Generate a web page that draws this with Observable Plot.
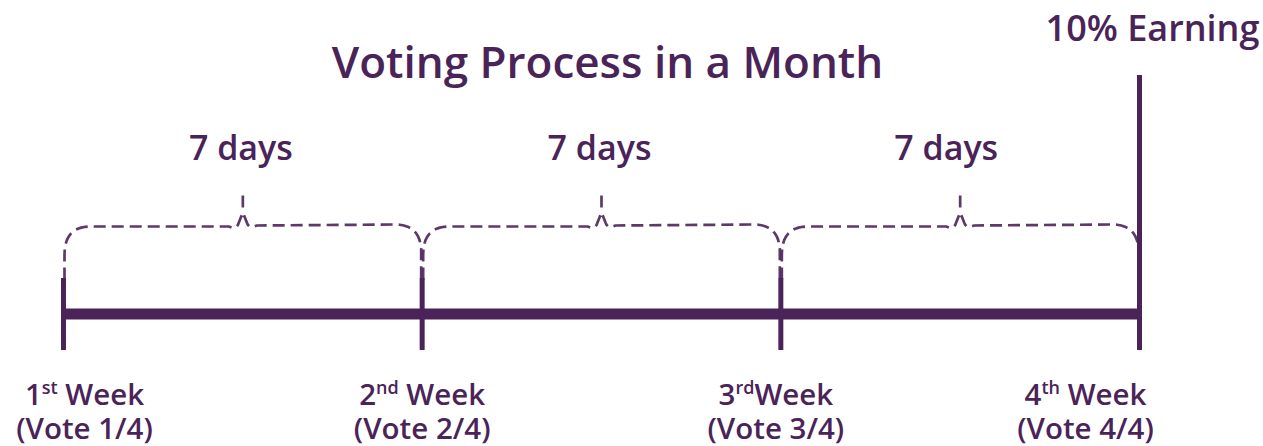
<!DOCTYPE html>
<html>
<head>
<meta charset="utf-8">
<script src="https://cdn.jsdelivr.net/npm/d3@7"></script>
<script src="https://cdn.jsdelivr.net/npm/@observablehq/plot@0.6"></script>
<style>
  html, body { margin: 0; padding: 0; background: #ffffff; }
  #chart { width: 1263px; height: 446px; overflow: hidden; }
</style>
</head>
<body>
<div id="chart"></div>
<script>
// ---- data ----
const title = "Voting Process in a Month";
const goalLabel = "10% Earning";
const weekDays = [0, 7, 14, 21];
const weekLabels = ["1st Week", "2nd Week", "3rdWeek", "4th Week"];
const voteLabels = ["(Vote 1/4)", "(Vote 2/4)", "(Vote 3/4)", "(Vote 4/4)"];
const intervalStart = [0, 7, 14];
const intervalEnd = [7, 14, 21];
const intervalLabels = ["7 days", "7 days", "7 days"];

// ---- layout ----
const W = 1263, H = 446;
const X0 = 63, X1 = 1139;
const DMAX = 21;
const purple = "#4a2359";
const toPx = d => X0 + d * (X1 - X0) / DMAX;
const toDay = p => (p - X0) * DMAX / (X1 - X0);
const labelShift = [21, 0, -5, -54];
const intervalShift = [-2, -2, -14];

function quad(p0, c, p1, n = 10) {
  const out = [];
  for (let k = 1; k <= n; k++) {
    const t = k / n, u = 1 - t;
    out.push([u*u*p0[0] + 2*u*t*c[0] + t*t*p1[0], u*u*p0[1] + 2*u*t*c[1] + t*t*p1[1]]);
  }
  return out;
}
function bracePts(s, e) {
  const a = toPx(s) + 1, b = toPx(e) - 1, m = (a + b) / 2;
  let pts = [[a, 279], [a, 254]];
  pts = pts.concat(quad([a, 254], [a, 226], [a + 26, 226]));
  pts.push([m - 14, 226]);
  pts = pts.concat(quad([m - 14, 226], [m - 6, 230], [m - 4, 222], 5));
  pts.push([m, 212]);
  pts.push([m + 4, 222]);
  pts = pts.concat(quad([m + 4, 222], [m + 6, 229], [m + 14, 225], 5));
  pts.push([b - 26, 224]);
  pts = pts.concat(quad([b - 26, 224], [b - 2, 224], [b, 248]));
  pts.push([b, 280]);
  return pts;
}
const braceData = [];
intervalStart.forEach((s, i) => {
  bracePts(s, intervalEnd[i]).forEach(([px, py]) => braceData.push({x: toDay(px), y: py, id: "b" + i}));
  const mid = (s + intervalEnd[i]) / 2;
  braceData.push({x: mid, y: 195, id: "s" + i});
  braceData.push({x: mid, y: 207, id: "s" + i});
});

const font = "'Open Sans', 'Noto Sans', sans-serif";

const weekMarks = weekDays.map((d, i) =>
  Plot.text([weekLabels[i] + "\n" + voteLabels[i]], {x: () => d, y: () => 438, text: t => t, dx: labelShift[i],
    fontSize: 29.5, lineHeight: 1.12, fontWeight: 600, fill: purple, textAnchor: "middle", lineAnchor: "bottom",
    ariaDescription: "week-label"})
);

const chart = Plot.plot({
  width: W, height: H, margin: 0,
  x: {domain: [0, DMAX], range: [X0, X1], axis: null},
  y: {domain: [0, H], range: [0, H], axis: null},
  style: {fontFamily: font, background: "#ffffff", color: purple, overflow: "visible"},
  marks: [
    Plot.line(braceData, {x: "x", y: "y", z: "id", stroke: purple, strokeOpacity: 0.9, strokeWidth: 2.7,
      strokeDasharray: "12,6", curve: "linear", strokeLinecap: "butt"}),
    Plot.ruleY([{y: 313.5, a: weekDays[0], b: weekDays[weekDays.length - 1]}], {y: "y", x1: "a", x2: "b", stroke: purple, strokeWidth: 11}),
    Plot.ruleX(weekDays.slice(0, -1), {x: d => d, y1: () => 278, y2: () => 350, stroke: purple, strokeWidth: 5}),
    Plot.ruleX(weekDays.slice(-1), {x: d => d, y1: () => 75, y2: () => 350, stroke: purple, strokeWidth: 5}),
    Plot.text([title], {x: () => toDay(607), y: () => 77, text: t => t, fontSize: 44, fontWeight: 600,
      fill: purple, textAnchor: "middle", lineAnchor: "bottom"}),
    Plot.text([goalLabel], {x: () => toDay(1152), y: () => 40, text: t => t, fontSize: 36, fontWeight: 600,
      fill: purple, textAnchor: "middle", lineAnchor: "bottom"}),
    Plot.text(intervalLabels, {x: (d, i) => toDay(toPx((intervalStart[i] + intervalEnd[i]) / 2) + intervalShift[i]), y: () => 159, text: t => t,
      fontSize: 34, fontWeight: 600, fill: purple, textAnchor: "middle", lineAnchor: "bottom"}),
    ...weekMarks
  ]
});
document.getElementById("chart").appendChild(chart);

// superscript ordinal suffixes on the first line of each week label
const ns = "http://www.w3.org/2000/svg";
chart.querySelectorAll('g[aria-description="week-label"] text').forEach(t => {
  const line = t.querySelector("tspan") || t;
  const m = /^(\d)(st|nd|rd|th)(.*)$/.exec(line.textContent);
  if (!m) return;
  line.textContent = "";
  const a = document.createElementNS(ns, "tspan"); a.textContent = m[1];
  const b = document.createElementNS(ns, "tspan"); b.textContent = m[2];
  b.setAttribute("font-size", "18"); b.setAttribute("dy", "-11");
  const c = document.createElementNS(ns, "tspan"); c.textContent = m[3];
  c.setAttribute("dy", "11");
  line.append(a, b, c);
});
</script>
</body>
</html>
